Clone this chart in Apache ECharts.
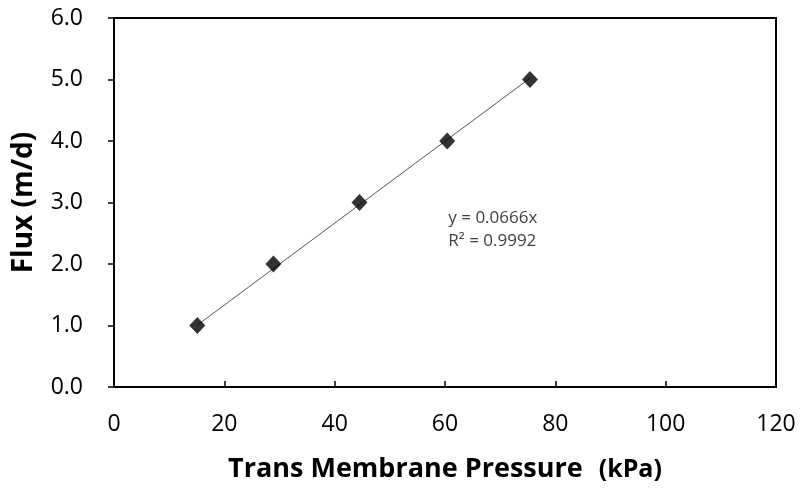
<!doctype html>
<html lang="en-US">
<head>
    <meta charset="utf-8" />
    <title>Flux vs Trans Membrane Pressure</title>
    <script type="text/javascript" src="https://cdn.jsdelivr.net/npm/echarts@6/dist/echarts.min.js"></script>
    <style>
        html, body { margin: 0; padding: 0; background: #fff; }
        #chart { width: 800px; height: 489px; }
    </style>
</head>
<body>
    <div id="chart"></div>
</body>
<script type="text/javascript">
    // measured points: TMP (kPa) -> flux (m/d)
    let tmp = [15.1, 28.9, 44.5, 60.4, 75.4];
    let flux = [1.0, 2.0, 3.0, 4.0, 5.0];
    let slope = 0.0666;
    let fitText = ["y = 0.0666x", "R\u00b2 = 0.9992"];

    let xy = [];
    for (let i = 0; i < tmp.length; i++) {
        xy.push([tmp[i], flux[i]]);
    }

    // trendline through origin, drawn over the data range
    let xmin = Math.min(...tmp);
    let xmax = Math.max(...tmp);
    let trend = [[xmin, slope * xmin], [xmax, slope * xmax]];

    let font = "'Open Sans', 'Noto Sans', sans-serif";
    let chartDom = document.getElementById("chart");
    let myChart = echarts.init(chartDom);

    let option = {
        animation: false,
        grid: {
            left: 114,
            right: 24,
            top: 18,
            bottom: 102,
            outerBoundsMode: 'none',
            containLabel: false,
            show: true,
            borderColor: '#000',
            borderWidth: 2
        },
        xAxis: {
            type: 'value',
            min: 0,
            max: 120,
            interval: 20,
            name: '{a|Trans Membrane Pressure}{b|(kPa)}',
            nameLocation: 'middle',
            nameGap: 69,
            nameTextStyle: {
                rich: {
                    a: { fontFamily: font, fontSize: 27, fontWeight: 'bold', color: '#000' },
                    b: { fontFamily: font, fontSize: 25, fontWeight: 'bold', color: '#000', padding: [0, 0, 0, 16] }
                }
            },
            axisLine: { lineStyle: { color: '#000', width: 2 } },
            axisTick: { inside: true, length: 6, lineStyle: { color: '#000', width: 1.5 } },
            axisLabel: { fontFamily: font, fontSize: 23, color: '#000', margin: 26 },
            splitLine: { show: false }
        },
        yAxis: {
            type: 'value',
            min: 0,
            max: 6,
            interval: 1,
            name: 'Flux (m/d)',
            nameLocation: 'middle',
            nameGap: 76,
            nameTextStyle: { fontFamily: font, fontSize: 28, fontWeight: 'bold', color: '#000' },
            axisLine: { lineStyle: { color: '#000', width: 2 } },
            axisTick: { length: 6, lineStyle: { color: '#000', width: 1.5 } },
            axisLabel: {
                fontFamily: font,
                fontSize: 23,
                color: '#000',
                margin: 31,
                formatter: v => v.toFixed(1)
            },
            splitLine: { show: false }
        },
        series: [
            {
                name: 'Linear',
                type: 'line',
                data: trend,
                symbol: 'none',
                lineStyle: { color: '#555', width: 1 },
                z: 2
            },
            {
                name: 'Flux',
                type: 'scatter',
                data: xy,
                symbol: 'diamond',
                symbolSize: [16, 17],
                itemStyle: { color: '#000' },
                z: 3
            }
        ]
    };

    myChart.setOption(option);

    // regression equation label placed in data coordinates
    let pos = myChart.convertToPixel({ gridIndex: 0 }, [60.6, 2.94]);
    myChart.setOption({
        graphic: [{
            type: 'text',
            left: pos[0],
            top: pos[1],
            style: {
                text: fitText.join("\n"),
                fontFamily: font,
                fontSize: 17,
                lineHeight: 23,
                fill: '#404040'
            }
        }]
    });
</script>
</html>
